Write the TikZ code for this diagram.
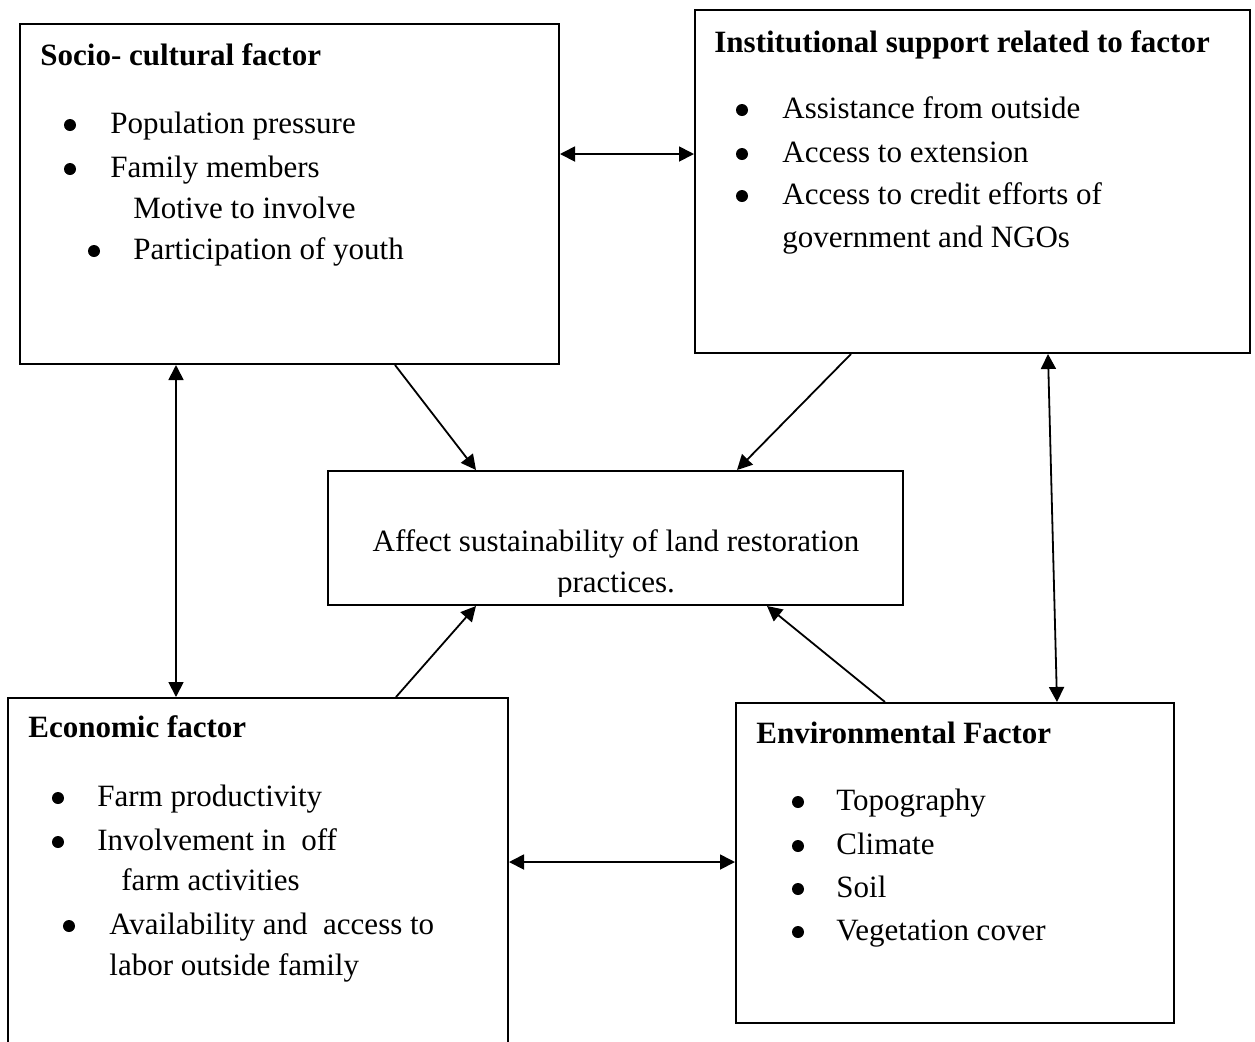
\documentclass[tikz,border=0pt]{standalone}
\usepackage{fontspec}
\setmainfont{Liberation Serif}
\usetikzlibrary{arrows.meta,fit}
\begin{document}
\begin{tikzpicture}[x=0.5pt,y=-0.5pt,
  box/.style={draw,line width=1pt,inner sep=0pt},
  txt/.style={anchor=base west,inner sep=0pt,font=\fontsize{15.5}{19}\selectfont},
  ttl/.style={anchor=base west,inner sep=0pt,font=\fontsize{15.5}{19}\selectfont\bfseries},
  ctr/.style={anchor=base,inner sep=0pt,font=\fontsize{15.5}{19}\selectfont},
  bul/.style={fill=black,circle,inner sep=0pt,minimum size=6pt},
  conn/.style={line width=0.9pt,-{Triangle[length=7.5pt,width=7.5pt]}},
  dconn/.style={line width=0.9pt,{Triangle[length=7.5pt,width=7.5pt]}-{Triangle[length=7.5pt,width=7.5pt]}}]
\useasboundingbox (0,0) rectangle (1255,1041);

% boxes
\node[box,fit={(20,24)(559,364)}] (soc) {};
\node[box,fit={(695,10)(1250,353)}] (ins) {};
\node[box,fit={(328,471)(903,605)}] (mid) {};
\node[box,fit={(8,698)(508,1070)}] (eco) {};
\node[box,fit={(736,703)(1174,1023)}] (env) {};

% socio-cultural
\node[ttl] (soct) at (40,65) {Socio- cultural factor};
\node[bul] (sb1) at (70,125) {};
\node[txt] (s1) at (110,133) {Population pressure};
\node[bul] (sb2) at (70,169) {};
\node[txt] (s2) at (110,177) {Family members};
\node[txt] (s3) at (133,218) {Motive to involve};
\node[bul] (sb4) at (94,251) {};
\node[txt] (s4) at (133,259) {Participation of youth};

% institutional
\node[ttl] (inst) at (714,52) {Institutional support related to factor};
\node[bul] (ib1) at (742,110) {};
\node[txt] (i1) at (782,118) {Assistance from outside};
\node[bul] (ib2) at (742,154) {};
\node[txt] (i2) at (782,162) {Access to extension};
\node[bul] (ib3) at (742,196) {};
\node[txt] (i3) at (782,204) {Access to credit efforts of};
\node[txt] (i4) at (782,247) {government and NGOs};

% centre
\node[ctr] (m1) at (616,551) {Affect sustainability of land restoration};
\begin{scope}
\clip (328,471) rectangle (903,596);
\node[ctr] (m2) at (616,592) {practices.};
\end{scope}

% economic
\node[ttl] (ecot) at (28,737) {Economic factor};
\node[bul] (eb1) at (58,798) {};
\node[txt] (e1) at (97,806) {Farm productivity};
\node[bul] (eb2) at (58,842) {};
\node[txt] (e2) at (97,850) {Involvement in\ \ off};
\node[txt] (e3) at (121,890) {farm activities};
\node[bul] (eb4) at (69,926) {};
\node[txt] (e4) at (109,934) {Availability and\ \ access to};
\node[txt] (e5) at (109,975) {labor outside family};

% environmental
\node[ttl] (envt) at (756,743) {Environmental Factor};
\node[bul] (vb1) at (798,802) {};
\node[txt] (v1) at (836,810) {Topography};
\node[bul] (vb2) at (798,846) {};
\node[txt] (v2) at (836,854) {Climate};
\node[bul] (vb3) at (798,889) {};
\node[txt] (v3) at (836,897) {Soil};
\node[bul] (vb4) at (798,932) {};
\node[txt] (v4) at (836,940) {Vegetation cover};

% connectors
\draw[dconn] (soc.east |- 0,154) -- (ins.west |- 0,154);
\draw[dconn] (soc.south -| 176,0) -- (eco.north -| 176,0);
\draw[dconn] (ins.south -| 1048,0) -- (env.north -| 1057,0);
\draw[dconn] (eco.east |- 0,862) -- (env.west |- 0,862);
\draw[conn] (soc.south -| 395,0) -- (mid.north -| 476,0);
\draw[conn] (ins.south -| 851,0) -- (mid.north -| 737,0);
\draw[conn] (eco.north -| 396,0) -- (mid.south -| 476,0);
\draw[conn] (env.north -| 885,0) -- (mid.south -| 767,0);
\end{tikzpicture}
\end{document}
